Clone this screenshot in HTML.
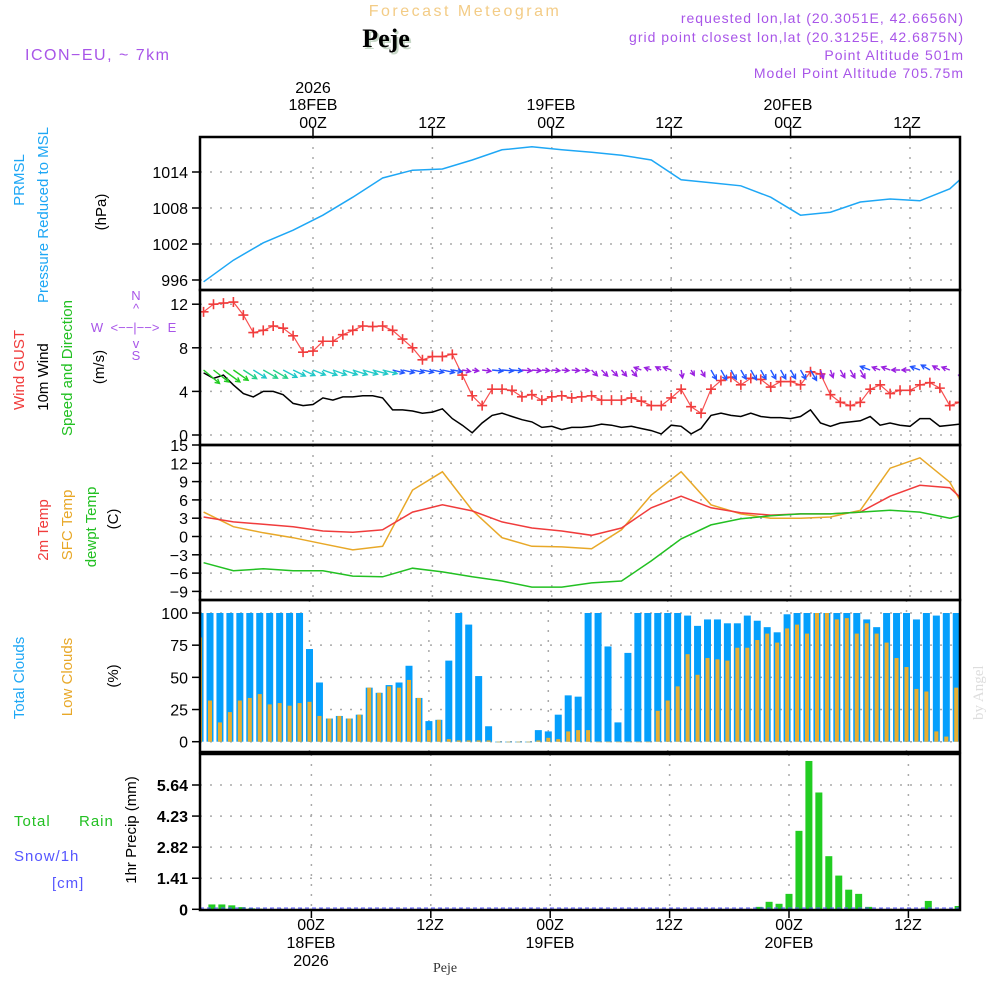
<!DOCTYPE html>
<html><head><meta charset="utf-8"><style>
html,body{margin:0;padding:0;background:#fff}
svg{display:block}
text{font-family:"Liberation Sans",sans-serif}
</style></head><body>
<svg id="c" width="1000" height="1000" viewBox="0 0 1000 1000" xmlns="http://www.w3.org/2000/svg">
<text x="465" y="16" font-size="16" fill="#f3cc86" text-anchor="middle" letter-spacing="2.5">Forecast Meteogram</text>
<text x="388" y="49" font-size="26" font-weight="bold" style="font-family:'Liberation Serif',serif" fill="#c8d8c8" text-anchor="middle">Peje</text>
<text x="386" y="47" font-size="26" font-weight="bold" style="font-family:'Liberation Serif',serif" fill="#000" text-anchor="middle">Peje</text>
<text x="25" y="60" font-size="16" fill="#a855e8" letter-spacing="1.5">ICON−EU, ~ 7km</text>
<g font-size="14" fill="#a855e8" text-anchor="end" letter-spacing="1">
<text x="964" y="23">requested lon,lat (20.3051E, 42.6656N)</text>
<text x="964" y="42">grid point closest lon,lat (20.3125E, 42.6875N)</text>
<text x="964" y="60">Point Altitude 501m</text>
<text x="964" y="78">Model Point Altitude 705.75m</text>
</g>
<g id="grid"></g>
<g id="marks"></g>
<g id="frames" fill="none" stroke="#000" stroke-width="2.5"></g>
<g id="labels"></g>
<g font-size="16" fill="#000" text-anchor="middle">
<text x="313" y="93">2026</text><text x="313" y="110">18FEB</text><text x="313" y="128">00Z</text>
<text x="432" y="128">12Z</text>
<text x="551" y="110">19FEB</text><text x="551" y="128">00Z</text>
<text x="669" y="128">12Z</text>
<text x="788" y="110">20FEB</text><text x="788" y="128">00Z</text>
<text x="907" y="128">12Z</text>
</g>
<g font-size="16" fill="#000" text-anchor="middle">
<text x="311" y="930">00Z</text><text x="311" y="948">18FEB</text><text x="311" y="966">2026</text>
<text x="430" y="930">12Z</text>
<text x="550" y="930">00Z</text><text x="550" y="948">19FEB</text>
<text x="669" y="930">12Z</text>
<text x="789" y="930">00Z</text><text x="789" y="948">20FEB</text>
<text x="908" y="930">12Z</text>
</g>
<text x="445" y="972" font-size="14" style="font-family:'Liberation Serif',serif" fill="#333" text-anchor="middle">Peje</text>
<text transform="translate(983,720) rotate(-90)" font-size="15" style="font-family:'Liberation Serif',serif" fill="#ddd">by Angel</text>
<g font-size="15">
<text transform="translate(24,180) rotate(-90)" fill="#1ea7f5" text-anchor="middle">PRMSL</text>
<text transform="translate(48,215) rotate(-90)" fill="#1ea7f5" text-anchor="middle">Pressure Reduced to MSL</text>
<text transform="translate(106,212) rotate(-90)" fill="#000" text-anchor="middle">(hPa)</text>
<text transform="translate(24,370) rotate(-90)" fill="#f03c3c" text-anchor="middle">Wind GUST</text>
<text transform="translate(48,377) rotate(-90)" fill="#000" text-anchor="middle">10m Wind</text>
<text transform="translate(72,368) rotate(-90)" fill="#22c022" text-anchor="middle">Speed and Direction</text>
<text transform="translate(104,367) rotate(-90)" fill="#000" text-anchor="middle">(m/s)</text>
<text transform="translate(48,530) rotate(-90)" fill="#f03c3c" text-anchor="middle">2m Temp</text>
<text transform="translate(72,525) rotate(-90)" fill="#e8a828" text-anchor="middle">SFC Temp</text>
<text transform="translate(96,527) rotate(-90)" fill="#22c022" text-anchor="middle">dewpt Temp</text>
<text transform="translate(118,519) rotate(-90)" fill="#000" text-anchor="middle">(C)</text>
<text transform="translate(24,678) rotate(-90)" fill="#1ea7f5" text-anchor="middle">Total Clouds</text>
<text transform="translate(72,677) rotate(-90)" fill="#e8a828" text-anchor="middle">Low Clouds</text>
<text transform="translate(118,676) rotate(-90)" fill="#000" text-anchor="middle">(%)</text>
<text transform="translate(136,830) rotate(-90)" fill="#000" text-anchor="middle">1hr Precip (mm)</text>
</g>
<g font-size="15" letter-spacing="1">
<text x="14" y="826" fill="#22c022">Total</text><text x="79" y="826" fill="#22c022">Rain</text>
<text x="14" y="861" fill="#5555ff">Snow/1h</text>
<text x="52" y="888" fill="#5555ff">[cm]</text>
</g>
<g font-size="13" fill="#a855e8" text-anchor="middle">
<text x="136" y="300">N</text><text x="136" y="313">^</text>
<text x="97" y="332">W</text><text x="135" y="332">&lt;−−|−−&gt;</text><text x="172" y="332">E</text>
<text x="136" y="348">v</text><text x="136" y="360">S</text>
</g>
</svg>
<script>
// ---------- data ----------
const hoursAll = [-11,-10,-9,-8,-7,-6,-5,-4,-3,-2,-1,0,1,2,3,4,5,6,7,8,9,10,11,12,13,14,15,16,17,18,19,20,21,22,23,24,25,26,27,28,29,30,31,32,33,34,35,36,37,38,39,40,41,42,43,44,45,46,47,48,49,50,51,52,53,54,55,56,57,58,59,60,61,62,63,64,65];
const hours3 = [-11,-8,-5,-2,1,4,7,10,13,16,19,22,25,28,31,34,37,40,43,46,49,52,55,58,61,64,65];
const pressure = [995.7,999.3,1002.2,1004.3,1006.8,1009.8,1013,1014.3,1014.5,1016,1017.7,1018.2,1017.7,1017.3,1016.8,1016,1012.7,1012.2,1011.7,1009.8,1006.8,1007.3,1009,1009.5,1009.2,1011.2,1012.7];
const temp2m = [3.2,2.4,2.0,1.6,0.9,0.7,1.1,4.0,5.2,4.2,2.4,1.4,0.9,0.2,1.4,4.7,6.6,4.7,3.9,3.5,3.7,3.7,4.0,6.6,8.4,8.0,6.5];
const tempSfc = [4.0,1.6,0.6,-0.2,-1.2,-2.2,-1.6,7.6,10.6,4.3,-0.2,-1.6,-1.7,-2.0,1.1,6.8,10.6,5.2,3.7,3.0,3.0,3.2,4.3,11.2,12.9,8.9,6.0];
const dewpt = [-4.3,-5.6,-5.3,-5.6,-5.6,-6.5,-6.6,-5.2,-5.8,-6.6,-7.3,-8.3,-8.3,-7.6,-7.3,-4.0,-0.4,1.9,2.9,3.4,3.7,3.7,4.0,4.3,4.0,3.0,3.4];
const gust = [11.3,12.0,12.1,12.2,11.0,9.4,9.6,10.0,9.8,9.1,7.6,7.7,8.6,8.6,9.2,9.6,10.0,9.95,10.0,9.6,8.8,8.0,6.9,7.2,7.2,7.4,5.5,3.6,2.7,4.2,4.2,4.1,3.5,3.7,3.2,3.5,3.6,3.4,3.5,3.6,3.2,3.2,3.2,3.4,3.1,2.7,2.7,3.4,4.2,2.6,2.0,4.2,5.0,5.3,4.6,5.2,5.1,4.4,4.9,4.9,4.6,5.8,5.6,3.7,3.0,2.7,3.0,4.2,4.6,3.8,4.1,4.1,4.6,4.8,4.3,2.7,3.0];
const wind10 = [5.7,5.2,5.5,4.6,3.8,3.5,4.0,4.0,3.7,2.9,2.7,2.8,3.4,3.2,3.5,3.5,3.6,3.6,3.4,2.3,2.3,2.2,2.0,2.1,2.4,1.5,0.9,0.2,1.1,1.8,2.0,1.7,1.4,1.2,0.7,0.8,0.5,0.7,0.7,0.8,1.0,0.9,0.7,0.8,0.6,0.4,0.1,0.9,0.8,0.1,0.6,1.8,2.0,1.8,1.7,2.0,1.7,1.6,1.6,1.5,1.7,2.3,1.1,0.8,1.1,1.2,1.3,1.7,0.9,1.1,0.9,0.8,1.5,1.5,0.8,0.9,1.0];
const windDir = [40,38,36,35,33,32,30,30,28,26,25,22,20,20,18,18,16,15,14,14,13,12,12,12,12,10,10,8,8,6,5,5,5,5,5,5,5,5,5,45,45,45,50,50,200,200,210,200,80,60,60,60,60,60,60,60,60,60,60,60,60,60,70,70,60,60,60,200,200,200,180,180,200,210,210,200,80];
const totalClouds = [100,100,100,100,100,100,100,100,100,100,100,72,46,18,20,18,21,42,38,44,46,59,34,16,17,63,100,91,51,12,0,0,0,0,9,8,21,36,35,100,100,74,15,69,100,100,100,100,100,98,90,95,95,92,92,98,94,89,85,99,100,100,100,100,100,100,100,95,89,100,100,100,95,100,98,100,100];
const lowClouds = [81,32,15,23,32,34,37,29,30,28,30,31,20,18,20,18,21,42,38,43,42,48,34,9,17,2,1,1,1,1,0,0,0,0,1,3,2,8,9,9,0,0,0,0,0,0,24,32,43,68,52,65,64,63,73,73,79,84,77,88,91,84,100,100,95,96,84,92,84,77,65,58,41,39,8,4,42];
const precip = [0,0.22,0.22,0.18,0.1,0.04,0.02,0,0,0,0,0,0,0,0,0,0,0,0,0,0,0,0,0,0,0,0,0,0,0,0,0,0,0,0,0,0,0,0,0,0,0,0,0,0,0,0,0,0,0,0,0,0,0,0,0,0.11,0.34,0.25,0.7,3.56,6.73,5.3,2.41,1.53,0.89,0.7,0.11,0,0,0,0,0,0.38,0,0,0.15];
const pTicks = [996,1002,1008,1014];
const wTicks = [0,4,8,12];
const tTicks = [-9,-6,-3,0,3,6,9,12,15];
const cTicks = [0,25,50,75,100];
const rTicks = ["0","1.41","2.82","4.23","5.64"];

// ---------- scales ----------
const NS='http://www.w3.org/2000/svg';
const X0=200,X1=960;
const xT=h=>313+9.95*h;
const xC=h=>309.5+9.95*h;
const xR=h=>311.4+9.95*h;
const yP=v=>172+(1014-v)*6;
const yW=v=>435-v*10.9;
const yT=v=>536.5-v*6.1;
const yC=v=>741.7-v*1.287;
const yR=v=>909.3-v*(124.3/5.64);
const panels=[[137,290],[290,445],[445,600],[600,752],[754,910]];

function el(tag,attrs,parent){const e=document.createElementNS(NS,tag);for(const k in attrs)e.setAttribute(k,attrs[k]);parent.appendChild(e);return e;}
const grid=document.getElementById('grid'),marks=document.getElementById('marks'),frames=document.getElementById('frames'),labels=document.getElementById('labels');

const defs=el('defs',{},document.getElementById('c'));
panels.forEach((p,i)=>{const cp=el('clipPath',{id:'cp'+i},defs);el('rect',{x:X0,y:p[0],width:X1-X0,height:p[1]-p[0]},cp);});

panels.forEach((p,i)=>{
  const r=el('rect',{x:X0,y:p[0],width:X1-X0,height:p[1]-p[0]},frames);
  
  
});

function hgrid(ticks,yf,labelf,pidx,name,bold){
  ticks.forEach(t=>{
    const v=typeof t==='string'?parseFloat(t):t;const y=yf(v);
    const l=el('line',{x1:X0,x2:X1,y1:y,y2:y,stroke:'#aaa','stroke-dasharray':'2,8','stroke-width':1.5},grid);
    
    
    el('line',{x1:X0-8,x2:X0,y1:y,y2:y,stroke:'#000','stroke-width':1.5},grid);
    const tx=el('text',{x:X0-12,y:y+6,'font-size':16,'text-anchor':'end',fill:'#000','font-weight':bold?'bold':'normal'},labels);
    tx.textContent=labelf(t);
    
    
  });
}
hgrid(pTicks,yP,t=>t,0,'pressure');
hgrid(wTicks,yW,t=>t,1,'wind');
hgrid(tTicks,yT,t=>(t<0?'−'+(-t):t),2,'temp');
hgrid(cTicks,yC,t=>t,3,'cloud');
hgrid(rTicks,yR,t=>t,4,'precip',true);
[0,12,24,36,48,60].forEach(h=>{
  panels.forEach((p,i)=>{
    const x=(i===3?xC:(i===4?xR:xT))(h);
    const l=el('line',{x1:x,x2:x,y1:p[0],y2:p[1],stroke:'#aaa','stroke-dasharray':'2,8','stroke-width':1.5},grid);
    
    
  });
  el('line',{x1:xT(h),x2:xT(h),y1:127,y2:137,stroke:'#000','stroke-width':1.5},grid);
  el('line',{x1:xR(h),x2:xR(h),y1:910,y2:918,stroke:'#000','stroke-width':1.5},grid);
});

function line(hs,vals,xf,yf,color,name,clip,w){
  const pts=hs.map((h,i)=>xf(h).toFixed(1)+','+yf(vals[i]).toFixed(1)).join(' ');
  const pl=el('polyline',{points:pts,fill:'none',stroke:color,'stroke-width':w||1.5,'clip-path':'url(#cp'+clip+')'},marks);
  
  
  return pl;
}
line(hours3,pressure,xT,yP,'#1ea7f5','pressure-line',0);
line(hoursAll,wind10,xT,yW,'#000','wind-10m-line',1);
line(hoursAll,gust,xT,yW,'#f85050','wind-gust-line',1,1.2);
hoursAll.forEach((h,i)=>{
  const x=xT(h),y=yW(gust[i]);
  const g=el('path',{d:`M${x-5},${y}H${x+5}M${x},${y-5}V${y+5}`,stroke:'#f03c3c','stroke-width':1.6,'clip-path':'url(#cp1)'},marks);
  
  
});
function windColor(s){return s>=4.5?'#22cc22':s>=3.8?'#22d088':s>=2.5?'#20c8c8':s>=1.5?'#2255ff':'#9a20e0';}
hoursAll.forEach((h,i)=>{
  const s=wind10[i],len=6+2.6*s,a=windDir[i]*Math.PI/180;
  const x0=xT(h),y0=370,x1=x0+len*Math.cos(a),y1=y0+len*Math.sin(a);
  const hl=5,ha=0.5;
  const d=`M${x0},${y0}L${x1},${y1}M${x1-hl*Math.cos(a-ha)},${y1-hl*Math.sin(a-ha)}L${x1},${y1}L${x1-hl*Math.cos(a+ha)},${y1-hl*Math.sin(a+ha)}`;
  const ar=el('path',{d:d,stroke:windColor(s),'stroke-width':1.4,fill:'none','clip-path':'url(#cp1)'},marks);
  
  
});
line(hours3,tempSfc,xT,yT,'#e8a828','sfc-temp-line',2);
line(hours3,temp2m,xT,yT,'#f03c3c','temp-2m-line',2);
line(hours3,dewpt,xT,yT,'#22c022','dewpoint-line',2);
hoursAll.forEach((h,i)=>{
  const x=xC(h);
  const b=el('rect',{x:x-3.5,y:yC(totalClouds[i]),width:7,height:Math.max(0.6,yC(0)-yC(totalClouds[i])),fill:'#059ffc','clip-path':'url(#cp3)'},marks);
  
  
  const o=el('rect',{x:x-2,y:yC(lowClouds[i]),width:4,height:Math.max(0.6,yC(0)-yC(lowClouds[i])),fill:'#e8ae30','clip-path':'url(#cp3)'},marks);
  
  
});
hoursAll.forEach((h,i)=>{
  if(precip[i]<=0)return;
  const x=xR(h);
  const b=el('rect',{x:x-3.5,y:yR(precip[i]),width:7,height:yR(0)-yR(precip[i]),fill:'#22cc22','clip-path':'url(#cp4)'},marks);
  
  
});
const sn=el('line',{x1:X0,x2:X1,y1:908,y2:908,stroke:'#5555ff','stroke-width':1,'stroke-dasharray':'4,3'},marks);


</script>
</body></html>
